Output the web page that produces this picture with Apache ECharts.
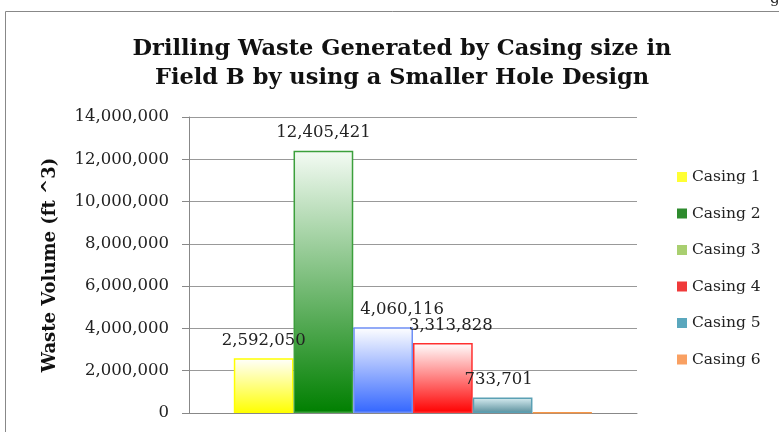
<!DOCTYPE html>
<html>
<head>
<meta charset="utf-8">
<script src="https://cdn.jsdelivr.net/npm/echarts@6/dist/echarts.min.js"></script>
<style>
  html, body { margin: 0; padding: 0; background: #fff; }
  #main { width: 779px; height: 432px; }
</style>
</head>
<body>
<div id="main"></div>
<script>
// data
var categories = ['Field B'];
var seriesNames = ['Casing 1', 'Casing 2', 'Casing 3', 'Casing 4', 'Casing 5', 'Casing 6'];
var seriesValues = [2592050, 12405421, 4060116, 3313828, 733701, 30000];
var showLabel = [true, true, true, true, true, false];
var yTicks = [0, 2000000, 4000000, 6000000, 8000000, 10000000, 12000000, 14000000];

// bar colours: [top, bottom, border]
var barColors = [
  ['#ffffff', '#ffff00', '#ffff00'],
  ['#f4fbf4', '#007f00', '#3ca03c'],
  ['#ffffff', '#3366ff', '#6f8ff5'],
  ['#ffffff', '#ff0000', '#ff3030'],
  ['#d9eef2', '#5a8f9c', '#5aa0b4'],
  ['#ffc896', '#f79646', '#f79646']
];
var legendColors = ['#ffff33', '#2e8b2e', '#a9cf70', '#f03a3a', '#5aa7bd', '#f9a062'];
var labelOffsets = [[0, 0], [0, 0], [19, 0], [8, 0], [-4, 0], [0, 0]];

var myChart = echarts.init(document.getElementById('main'));

function fmt(v) {
  return v.toString().replace(/\B(?=(\d{3})+(?!\d))/g, ',');
}

var series = seriesNames.map(function (name, i) {
  return {
    name: name,
    type: 'bar',
    barGap: '0%',
    barCategoryGap: '20%',
    data: [seriesValues[i]],
    itemStyle: {
      color: new echarts.graphic.LinearGradient(0, 0, 0, 1, [
        { offset: 0, color: barColors[i][0] },
        { offset: 1, color: barColors[i][1] }
      ]),
      borderColor: barColors[i][2],
      borderWidth: 1.5
    },
    label: {
      show: showLabel[i],
      position: 'top',
      distance: 9,
      offset: labelOffsets[i],
      fontFamily: 'DejaVu Serif',
      fontSize: 16.5,
      color: '#222',
      formatter: function (p) { return fmt(p.value); }
    }
  };
});

myChart.setOption({
  animation: false,
  title: {
    text: 'Drilling Waste Generated by Casing size in\nField B by using a Smaller Hole Design',
    left: 397,
    textAlign: 'center',
    top: 30,
    textStyle: {
      fontFamily: 'DejaVu Serif',
      fontWeight: 'bold',
      fontSize: 22.5,
      lineHeight: 29,
      color: '#111'
    }
  },
  legend: {
    orient: 'vertical',
    left: 672,
    top: 163,
    itemWidth: 10,
    itemHeight: 10,
    itemGap: 18.5,
    icon: 'rect',
    textStyle: { fontFamily: 'DejaVu Serif', fontSize: 15.5, color: '#222', lineHeight: 18 },
    data: seriesNames.map(function (n, i) {
      return { name: n, itemStyle: { color: legendColors[i], borderWidth: 0 } };
    })
  },
  grid: { left: 189, top: 117, right: 142, bottom: 19 },
  xAxis: {
    type: 'category',
    data: categories,
    axisLine: { lineStyle: { color: '#888' } },
    axisTick: { show: false },
    axisLabel: { show: false }
  },
  yAxis: {
    type: 'value',
    min: 0,
    max: 14000000,
    interval: 2000000,
    name: 'Waste Volume (ft ^3)',
    nameLocation: 'middle',
    nameGap: 130,
    nameTextStyle: { fontFamily: 'DejaVu Serif', fontWeight: 'bold', fontSize: 18, color: '#111' },
    axisLine: { show: true, lineStyle: { color: '#888' } },
    axisTick: { show: true, length: 7, lineStyle: { color: '#888' } },
    splitLine: { lineStyle: { color: '#999' } },
    axisLabel: {
      fontFamily: 'DejaVu Serif',
      fontSize: 16.5,
      color: '#222',
      margin: 20,
      formatter: function (v) { return fmt(v); }
    }
  },
  graphic: [
    { type: 'rect', shape: { x: 5.5, y: 11.5, width: 800, height: 440 },
      style: { fill: 'none', stroke: '#888', lineWidth: 1 } },
    { type: 'text', left: 770, top: -8,
      style: { text: 'g', font: '15px DejaVu Serif', fill: '#222' } }
  ],
  series: series
});
</script>
</body>
</html>
